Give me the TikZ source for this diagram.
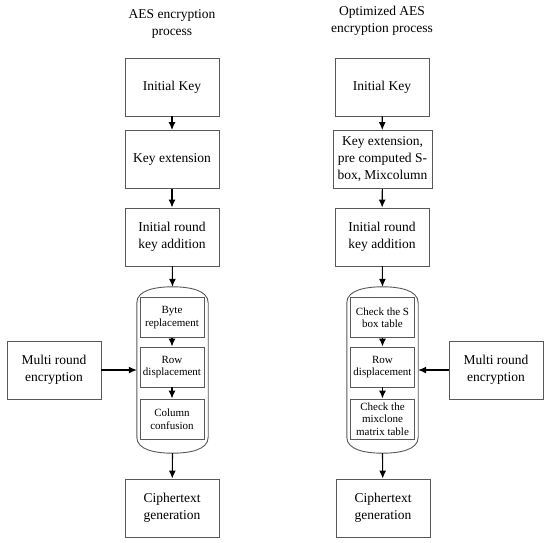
\documentclass[tikz,border=0pt]{standalone}
\usepackage{fontspec}
\setmainfont{Liberation Serif}
\usetikzlibrary{shapes,arrows,arrows.meta,positioning}

\begin{document}
\begin{tikzpicture}[x=1pt, y=-1pt,
    box/.style={rectangle, draw=black!65, line width=0.9pt, minimum width=94pt, minimum height=58pt, inner sep=1pt, align=center, font=\fontsize{13.5pt}{17pt}\selectfont},
    inbox/.style={rectangle, draw=black!65, line width=0.9pt, minimum width=64pt, minimum height=40pt, inner sep=1pt, align=center, font=\fontsize{11pt}{12.5pt}\selectfont},
    heading/.style={align=center, font=\fontsize{13.5pt}{17pt}\selectfont},
    loop/.style={rectangle, minimum width=71pt, minimum height=166pt, inner sep=0pt},
    flow/.style={-{Latex[length=8pt,width=7pt]}, line width=1.1pt}]
    \useasboundingbox (0,0) rectangle (550,542);

    % Headings
    \node[heading] (titleL) at (172,24) {AES encryption\\process};
    \node[heading] (titleR) at (382,21) {Optimized AES\\encryption process};

    % Left chain
    \node[box] (keyL) at (172,87) {Initial Key};
    \node[box] (extL) at (172,159.5) {Key extension};
    \node[box] (addL) at (172,237) {Initial round\\key addition};
    \node[loop] (loopL) at (172.5,370) {};
    \node[inbox] (byteL) at (172,317.5) {Byte\\replacement};
    \node[inbox] (rowL) at (172,367) {Row\\displacement};
    \node[inbox] (colL) at (172,419) {Column\\confusion};
    \node[box] (multiL) at (54,370) {Multi round\\encryption};
    \node[box] (ciphL) at (172,508) {Ciphertext\\generation};

    % Right chain
    \node[box] (keyR) at (382,87) {Initial Key};
    \node[box, minimum width=99pt] (extR) at (382.5,159.5) {Key extension,\\pre computed S-\\box, Mixcolumn};
    \node[box] (addR) at (382,237) {Initial round\\key addition};
    \node[loop] (loopR) at (382.5,370) {};
    \node[inbox] (sboxR) at (382.5,317.5) {Check the S\\box table};
    \node[inbox] (rowR) at (382.5,367) {Row\\displacement};
    \node[inbox] (mixR) at (382.5,419) {Check the\\mixclone\\matrix table};
    \node[box] (multiR) at (496,370) {Multi round\\encryption};
    \node[box] (ciphR) at (383,508) {Ciphertext\\generation};

    % Round containers
    \foreach \c in {loopL, loopR}
        \draw[draw=black!65, line width=0.9pt]
            ([yshift=-16pt]\c.north west) .. controls ([yshift=-3pt]\c.north west) and ([xshift=-16pt]\c.north) .. (\c.north)
            .. controls ([xshift=16pt]\c.north) and ([yshift=-3pt]\c.north east) .. ([yshift=-16pt]\c.north east)
            -- ([yshift=16pt]\c.south east)
            .. controls ([yshift=3pt]\c.south east) and ([xshift=16pt]\c.south) .. (\c.south)
            .. controls ([xshift=-16pt]\c.south) and ([yshift=3pt]\c.south west) .. ([yshift=16pt]\c.south west)
            -- cycle;

    % Connectors
    \draw[flow] (keyL) -- (extL);
    \draw[flow] (extL) -- (addL);
    \draw[flow] (addL) -- (loopL.north);
    \draw[flow] (byteL) -- (rowL);
    \draw[flow] (rowL) -- (colL);
    \draw[flow] (loopL.south) -- (ciphL);
    \draw[flow] (multiL.east) -- (loopL.west);

    \draw[flow] (keyR) -- (extR);
    \draw[flow] (extR) -- (addR);
    \draw[flow] (addR) -- (loopR.north);
    \draw[flow] (sboxR) -- (rowR);
    \draw[flow] (rowR) -- (mixR);
    \draw[flow] (loopR.south) -- (ciphR);
    \draw[flow] (multiR.west) -- (loopR.east);
\end{tikzpicture}
\end{document}
